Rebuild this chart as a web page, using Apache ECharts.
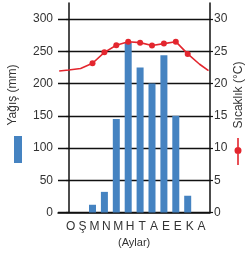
<!DOCTYPE html>
<html>
<head>
<meta charset="utf-8">
<script src="https://cdn.jsdelivr.net/npm/echarts@6/dist/echarts.min.js"></script>
<style>
  html, body { margin: 0; padding: 0; background: #fff; }
  #chart { width: 248px; height: 255px; }
</style>
</head>
<body>
<div id="chart"></div>
<script>
// aylar (Ocak ... Aralık)
var months = ['O', 'Ş', 'M', 'N', 'M', 'H', 'T', 'A', 'E', 'E', 'K', 'A'];
// yağış (mm)
var rain = [0, 0, 12, 32, 145, 264, 225, 200, 244, 150, 26, 0];
// sıcaklık (°C)
var temp = [22.1, 22.35, 23.15, 24.85, 25.95, 26.5, 26.35, 25.9, 26.2, 26.5, 24.6, 23.0];
// line runs on past Jan / Dec to the frame
var tempEdgeX = [-0.8, 11.75];
var tempEdge = [21.95, 22.0];

var rainTicks = [0, 50, 100, 150, 200, 250, 300];
var tempTicks = [0, 5, 10, 15, 20, 25, 30];

var chartDom = document.getElementById('chart');
var myChart = echarts.init(chartDom);

var lineData = [{ value: [tempEdgeX[0], tempEdge[0]], symbol: 'none' }];
temp.forEach(function (v, i) {
  var item = { value: [i, v] };
  if (i < 2 || i === 11) item.symbol = 'none';
  lineData.push(item);
});
lineData.push({ value: [tempEdgeX[1], tempEdge[1]], symbol: 'none' });

var labelColor = '#333';

var option = {
  animation: false,
  grid: [
    { left: 58, top: 3, width: 152, height: 209.5 },
    { left: 62.75, top: 3, width: 142.8, height: 209.5 }
  ],
  xAxis: [
    {
      type: 'value',
      gridIndex: 0,
      min: -0.899,
      max: 11.874,
      axisLine: { show: true, lineStyle: { color: '#111', width: 1.5 } },
      axisTick: { show: false },
      axisLabel: { show: false },
      splitLine: { show: false }
    },
    {
      type: 'category',
      gridIndex: 1,
      data: months,
      axisLine: { show: false },
      axisTick: { show: false },
      axisLabel: {
        color: labelColor,
        fontSize: 12,
        fontFamily: 'Liberation Sans',
        margin: 8,
        interval: 0,
        padding: [0, 0, 0, 4]
      },
      name: '(Aylar)',
      nameLocation: 'middle',
      nameGap: 23,
      nameTextStyle: { color: labelColor, fontSize: 11, fontFamily: 'Liberation Sans' }
    }
  ],
  yAxis: [
    {
      type: 'value',
      gridIndex: 0,
      position: 'left',
      min: rainTicks[0],
      max: 325,
      interval: 50,
      axisLine: { show: true, lineStyle: { color: '#111', width: 1.5 } },
      axisTick: { show: true, length: 3, lineStyle: { color: '#111', width: 1.2 } },
      axisLabel: {
        color: labelColor,
        fontSize: 12,
        fontFamily: 'Liberation Sans',
        margin: 5,
        showMaxLabel: false
      },
      splitLine: { show: true, showMaxLine: false, lineStyle: { color: '#111', width: 1.3 } }
    },
    {
      type: 'value',
      gridIndex: 0,
      position: 'right',
      min: tempTicks[0],
      max: 32.5,
      interval: 5,
      axisLine: { show: true, lineStyle: { color: '#111', width: 1.5 } },
      axisTick: { show: true, length: 3, lineStyle: { color: '#111', width: 1.2 } },
      axisLabel: {
        color: labelColor,
        fontSize: 12,
        fontFamily: 'Liberation Sans',
        margin: 4,
        showMaxLabel: false
      },
      splitLine: { show: false }
    },
    {
      type: 'value',
      gridIndex: 1,
      min: 0,
      max: 325,
      show: false
    }
  ],
  legend: [
    {
      left: 14,
      top: 136,
      padding: 0,
      itemWidth: 8,
      itemHeight: 27,
      icon: 'rect',
      selectedMode: false,
      formatter: function () { return ''; },
      data: ['Yağış (mm)']
    },
    {
      left: 234.5,
      top: 138,
      padding: 0,
      itemWidth: 7,
      itemHeight: 27,
      icon: 'path://M2.7,0H4.3V27H2.7Z M7,12.5A3.5,3.5,0,1,1,0,12.5A3.5,3.5,0,1,1,7,12.5Z',
      selectedMode: false,
      formatter: function () { return ''; },
      data: ['Sıcaklık (°C)']
    }
  ],
  graphic: [
    {
      type: 'text',
      x: 13,
      y: 95,
      rotation: Math.PI / 2,
      style: {
        text: 'Yağış (mm)',
        fill: labelColor,
        fontSize: 12,
        fontFamily: 'Liberation Sans',
        align: 'center',
        verticalAlign: 'middle'
      }
    },
    {
      type: 'text',
      x: 239,
      y: 95,
      rotation: Math.PI / 2,
      style: {
        text: 'Sıcaklık (°C)',
        fill: labelColor,
        fontSize: 12,
        fontFamily: 'Liberation Sans',
        align: 'center',
        verticalAlign: 'middle'
      }
    }
  ],
  series: [
    {
      name: 'Yağış (mm)',
      type: 'bar',
      xAxisIndex: 1,
      yAxisIndex: 2,
      barWidth: 7,
      itemStyle: { color: '#4583c1' },
      data: rain
    },
    {
      name: 'Sıcaklık (°C)',
      type: 'line',
      xAxisIndex: 0,
      yAxisIndex: 1,
      z: 5,
      symbol: 'circle',
      symbolSize: 6,
      lineStyle: { color: '#e3262e', width: 1.6 },
      itemStyle: { color: '#e3262e' },
      data: lineData
    }
  ]
};

option && myChart.setOption(option);
</script>
</body>
</html>
